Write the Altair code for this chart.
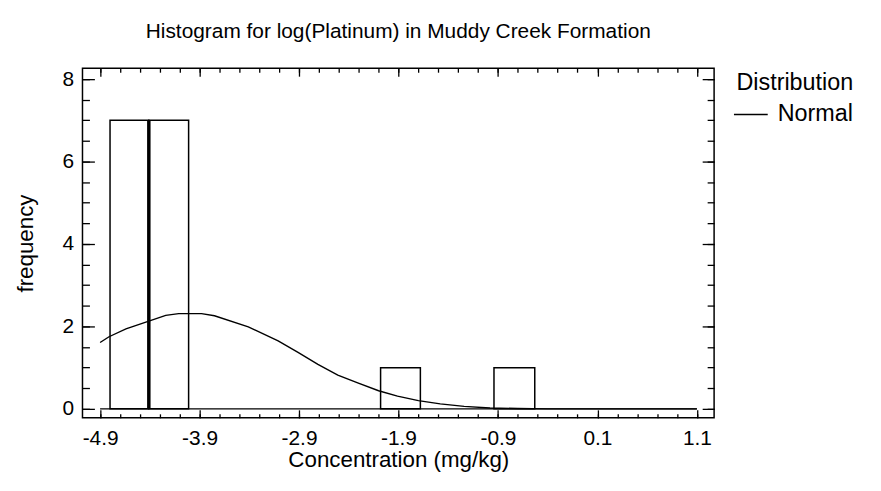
import altair as alt
import pandas as pd

# ---- data ----
bin_left = [-4.80, -4.41, -2.08, -0.94]
bin_right = [-4.41, -4.01, -1.68, -0.53]
bin_count = [7, 7, 1, 1]

curve_x = [-4.90, -4.81, -4.64, -4.41, -4.24, -4.11, -3.88, -3.75, -3.41, -3.11,
           -2.91, -2.71, -2.51, -2.31, -2.10, -1.91, -1.70, -1.48, -1.24, -0.98,
           -0.70, -0.40, 0.10, 0.60, 1.10]
curve_y = [1.61, 1.75, 1.94, 2.13, 2.27, 2.31, 2.31, 2.26, 1.99, 1.65,
           1.37, 1.08, 0.82, 0.63, 0.44, 0.31, 0.20, 0.12, 0.06, 0.02,
           0.01, 0.0, 0.0, 0.0, 0.0]
curve_name = "Normal"

x_major = [-4.9, -3.9, -2.9, -1.9, -0.9, 0.1, 1.1]
x_minor = [-4.9, -4.7, -4.5, -4.3, -4.1, -3.9, -3.7, -3.5, -3.3, -3.1, -2.9,
           -2.7, -2.5, -2.3, -2.1, -1.9, -1.7, -1.5, -1.3, -1.1, -0.9, -0.7,
           -0.5, -0.3, -0.1, 0.1, 0.3, 0.5, 0.7, 0.9, 1.1]
y_major = [0, 2, 4, 6, 8]
y_minor = [0, 0.5, 1, 1.5, 2, 2.5, 3, 3.5, 4, 4.5, 5, 5.5, 6, 6.5, 7, 7.5, 8]

FONT = "Liberation Sans"
FS_TITLE = 21
FS_LABEL = 21
FS_AXTITLE = 22.5
FS_LEGEND = 23.5

bars_df = pd.DataFrame({"left": bin_left, "right": bin_right, "count": bin_count})
curve_df = pd.DataFrame({"x": curve_x, "y": curve_y, "dist": curve_name})

# shared edges between adjacent bins
edges = []
for i in range(len(bin_left) - 1):
    if abs(bin_right[i] - bin_left[i + 1]) < 1e-9:
        edges.append({"edge": bin_right[i], "h": min(bin_count[i], bin_count[i + 1])})
edge_df = pd.DataFrame(edges)

xs = alt.Scale(domain=[-5.077, 1.273], nice=False, zero=False)
ys = alt.Scale(domain=[-0.217, 8.265], nice=False, zero=False)


def ax(orient, values, size, labels=False, title=None, label_expr=None, **kw):
    d = dict(orient=orient, values=values, tickSize=size, offset=-size,
             domain=False, grid=False, ticks=True, tickColor="black",
             tickWidth=1.3, labels=labels, title=title, labelFlush=False,
             labelFont=FONT, labelFontSize=FS_LABEL, labelColor="black",
             titleFont=FONT, titleFontSize=FS_AXTITLE, titleFontWeight="normal",
             titleColor="black", labelOverlap=False)
    if label_expr is not None:
        d["labelExpr"] = label_expr
    d.update(kw)
    return alt.Axis(**d)


xlab = "(datum.value < 0 ? '-' : '') + format(abs(datum.value), '.1f')"

bars = alt.Chart(bars_df).mark_rect(stroke="black", strokeWidth=1.5, fillOpacity=0).encode(
    x=alt.X("left:Q", scale=xs,
            axis=ax("bottom", x_major, 8, labels=True, title="Concentration (mg/kg)",
                    label_expr=xlab, labelPadding=10, titlePadding=0)),
    x2="right:Q",
    y=alt.Y("count:Q", scale=ys,
            axis=ax("left", y_major, 12, labels=True, title="frequency",
                    labelPadding=9, titlePadding=25)),
    y2=alt.datum(0),
)

line = alt.Chart(curve_df).mark_line(strokeWidth=1.4).encode(
    x=alt.X("x:Q", scale=xs, axis=ax("top", x_major, 8)),
    y=alt.Y("y:Q", scale=ys, axis=ax("right", y_major, 12)),
    color=alt.Color("dist:N", scale=alt.Scale(range=["black"]),
                    legend=alt.Legend(title="Distribution", orient="none",
                                      legendX=655, legendY=3, symbolType="stroke",
                                      symbolSize=1156, symbolStrokeWidth=1.5,
                                      labelOffset=9, titleAnchor="end",
                                      titleFont=FONT, titleFontSize=FS_LEGEND,
                                      titleFontWeight="normal", titleColor="black",
                                      labelFont=FONT, labelFontSize=FS_LEGEND,
                                      labelColor="black", padding=0, titlePadding=2)),
)

baseline = alt.Chart(curve_df).mark_rule(color="black", strokeWidth=1.4).encode(
    x=alt.X("min(x):Q", scale=xs, axis=ax("bottom", x_minor, 4)),
    x2="max(x):Q",
    y=alt.YDatum(0, scale=ys, axis=ax("left", y_minor, 7)),
)

edge = alt.Chart(edge_df).mark_rule(color="black", strokeWidth=3.5).encode(
    x=alt.X("edge:Q", scale=xs, axis=ax("top", x_minor, 4)),
    y=alt.Y("h:Q", scale=ys, axis=ax("right", y_minor, 7)),
    y2=alt.datum(0),
)

chart = alt.layer(bars, baseline, edge, line).resolve_axis(
    x="independent", y="independent"
).properties(
    width=636,
    height=352,
    title=alt.TitleParams("Histogram for log(Platinum) in Muddy Creek Formation",
                          font=FONT, fontSize=FS_TITLE, fontWeight="normal",
                          anchor="middle", offset=26, color="black"),
    padding={"left": 75, "top": 59, "right": 160, "bottom": 64},
    autosize=alt.AutoSizeParams(type="none"),
    background="white",
).configure_view(stroke="black", strokeWidth=1.5)

chart.save("out.html", embed_options={"renderer": "svg", "actions": False})
